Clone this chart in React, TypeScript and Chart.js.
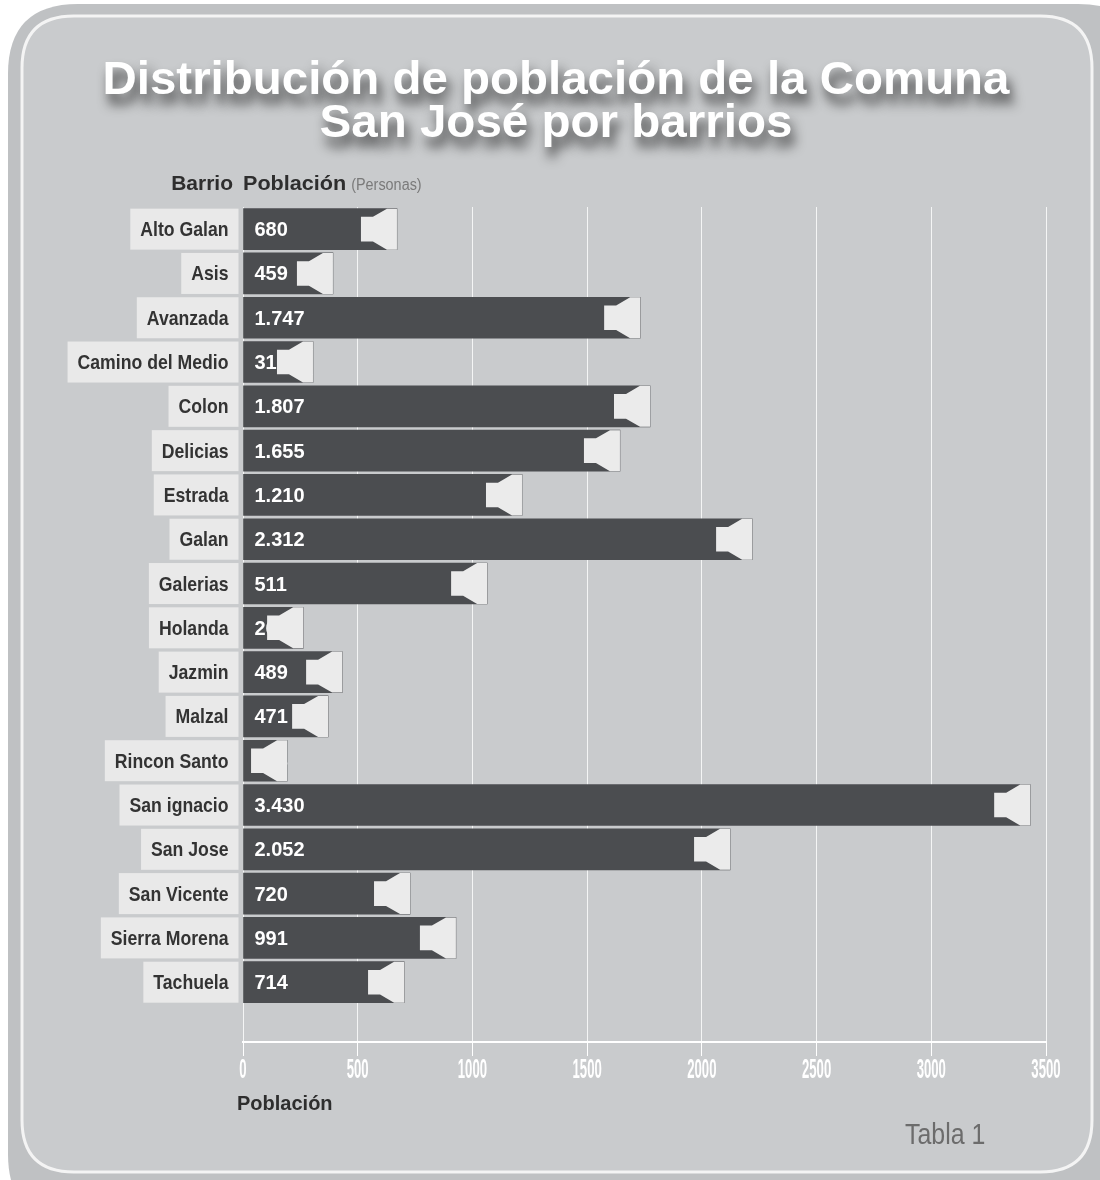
import React, { useEffect, useRef } from "react";
import { Chart, registerables } from "chart.js";

Chart.register(...registerables);

const titleLines = ["Distribución de población de la Comuna", "San José por barrios"];
const categories = [
  "Alto Galan", "Asis", "Avanzada", "Camino del Medio", "Colon", "Delicias", "Estrada", "Galan",
  "Galerias", "Holanda", "Jazmin", "Malzal", "Rincon Santo", "San ignacio", "San Jose",
  "San Vicente", "Sierra Morena", "Tachuela",
];
// printed values inside bars
const valueLabels = [
  "680", "459", "1.747", "316", "1.807", "1.655", "1.210", "2.312",
  "511", "260", "489", "471", "208", "3.430", "2.052", "720", "991", "714",
];
// bar lengths as drawn in the picture
const barLengths = [
  671, 392, 1731, 305, 1774, 1643, 1216, 2219,
  1064, 262, 432, 371, 192, 3431, 2123, 728, 928, 702,
];
const xMin = 0;
const xMax = 3500;
const xStep = 500;

function drawText(
  ctx: CanvasRenderingContext2D, text: string, x: number, y: number,
  font: string, color: string, align: "left" | "right" | "center", sx: number
) {
  ctx.save();
  ctx.font = font;
  ctx.fillStyle = color;
  ctx.textBaseline = "alphabetic";
  ctx.textAlign = "left";
  const w = ctx.measureText(text).width * sx;
  const left = align === "right" ? x - w : align === "center" ? x - w / 2 : x;
  ctx.translate(left, y);
  ctx.scale(sx, 1);
  ctx.fillText(text, 0, 0);
  ctx.restore();
  return w;
}

function roundRect(ctx: CanvasRenderingContext2D, x: number, y: number, w: number, h: number, r: number) {
  ctx.beginPath();
  ctx.moveTo(x + r, y);
  ctx.lineTo(x + w - r, y);
  ctx.quadraticCurveTo(x + w, y, x + w, y + r);
  ctx.lineTo(x + w, y + h - r);
  ctx.quadraticCurveTo(x + w, y + h, x + w - r, y + h);
  ctx.lineTo(x + r, y + h);
  ctx.quadraticCurveTo(x, y + h, x, y + h - r);
  ctx.lineTo(x, y + r);
  ctx.quadraticCurveTo(x, y, x + r, y);
  ctx.closePath();
}

const decorPlugin = {
  id: "decor",
  beforeDraw(chart: any) {
    const ctx: CanvasRenderingContext2D = chart.ctx;
    const W = chart.width;
    const H = chart.height;
    ctx.save();
    ctx.fillStyle = "#ffffff";
    ctx.fillRect(0, 0, W, H);
    roundRect(ctx, 8, 4, W + 40, H + 40, 70);
    ctx.fillStyle = "#bfc1c3";
    ctx.fill();
    roundRect(ctx, 22, 16, 1070, 1156, 52);
    ctx.fillStyle = "#c9cbcd";
    ctx.fill();
    ctx.lineWidth = 3;
    ctx.strokeStyle = "#f4f4f4";
    ctx.stroke();

    // title
    ctx.save();
    ctx.shadowColor = "rgba(20,20,20,0.75)";
    ctx.shadowBlur = 12;
    ctx.shadowOffsetX = 4;
    ctx.shadowOffsetY = 10;
    const tf = "bold 47px 'Liberation Sans', Arial, sans-serif";
    ctx.font = tf;
    const m1 = ctx.measureText(titleLines[0]).width;
    const m2 = ctx.measureText(titleLines[1]).width;
    drawText(ctx, titleLines[0], 556, 94, tf, "#ffffff", "center", 907 / m1);
    drawText(ctx, titleLines[1], 556, 137, tf, "#ffffff", "center", 473 / m2);
    ctx.restore();

    // header
    drawText(ctx, "Barrio", 233, 190, "bold 20px 'Liberation Sans', Arial, sans-serif", "#2e2e2e", "right", 1.05);
    const pw = drawText(ctx, "Población", 243, 190, "bold 20px 'Liberation Sans', Arial, sans-serif", "#2e2e2e", "left", 1.08);
    drawText(ctx, "(Personas)", 243 + pw + 5, 190, "16px 'Liberation Sans', Arial, sans-serif", "#7a7a7a", "left", 0.9);
    ctx.restore();
  },
  afterDatasetsDraw(chart: any) {
    const ctx: CanvasRenderingContext2D = chart.ctx;
    const meta = chart.getDatasetMeta(0);
    const labelFont = "bold 21px 'Liberation Sans', Arial, sans-serif";
    const valFont = "bold 20px 'Liberation Sans', Arial, sans-serif";
    ctx.save();
    meta.data.forEach((bar: any, i: number) => {
      const X = bar.x;
      const base = bar.base;
      const h = bar.height;
      const T = bar.y - h / 2;
      const B = bar.y + h / 2;
      // value text
      drawText(ctx, valueLabels[i], base + 11, bar.y + 7, valFont, "#ffffff", "left", 1.0);
      // ribbon end
      const d = 0.2 * h;
      ctx.beginPath();
      ctx.moveTo(X - 36, T + d);
      ctx.lineTo(X - 24, T + d);
      ctx.lineTo(X - 10, T);
      ctx.lineTo(X, T);
      ctx.lineTo(X, B);
      ctx.lineTo(X - 10, B);
      ctx.lineTo(X - 24, B - d);
      ctx.lineTo(X - 36, B - d);
      ctx.closePath();
      ctx.fillStyle = "#ebebeb";
      ctx.fill();
      // category label box
      ctx.font = labelFont;
      const tw = ctx.measureText(categories[i]).width * 0.84;
      const right = base - 5;
      ctx.fillStyle = "#e9e9e9";
      ctx.fillRect(right - tw - 20, T, tw + 20, h);
      drawText(ctx, categories[i], right - 10, bar.y + 7, labelFont, "#333333", "right", 0.84);
    });
    ctx.restore();
  },
  afterDraw(chart: any) {
    const ctx: CanvasRenderingContext2D = chart.ctx;
    const xs = chart.scales.x;
    ctx.save();
    xs.ticks.forEach((t: any) => {
      const px = xs.getPixelForValue(t.value);
      drawText(ctx, String(t.value), px, 1078, "bold 28px 'Liberation Sans', Arial, sans-serif", "#ffffff", "center", 0.47);
    });
    drawText(ctx, "Población", 237, 1110, "bold 20px 'Liberation Sans', Arial, sans-serif", "#2e2e2e", "left", 1.0);
    drawText(ctx, "Tabla 1", 905, 1144, "30px 'Liberation Sans', Arial, sans-serif", "#6c6c6c", "left", 0.83);
    ctx.restore();
  },
};

export default function App() {
  const ref = useRef<HTMLCanvasElement | null>(null);
  useEffect(() => {
    if (!ref.current) return;
    const chart = new Chart(ref.current, {
      type: "bar",
      data: {
        datasets: [
          {
            data: categories.map((c, i) => ({ x: barLengths[i], y: i })),
            backgroundColor: "#4b4d50",
            borderWidth: 0,
            barThickness: 41,
          },
        ],
      },
      options: {
        indexAxis: "y",
        animation: false,
        responsive: false,
        layout: { padding: { left: 243, right: 54, top: 207, bottom: 0 } },
        plugins: { legend: { display: false }, tooltip: { enabled: false } },
        scales: {
          x: {
            type: "linear",
            min: xMin,
            max: xMax,
            ticks: { stepSize: xStep, color: "rgba(0,0,0,0)", font: { size: 12 } },
            grid: { color: "rgba(255,255,255,0.8)", lineWidth: 1, drawTicks: true, tickLength: 14, tickColor: "#ffffff" },
            border: { display: true, color: "#ffffff", width: 2 },
            afterFit: (scale: any) => { scale.height = 138; },
          },
          y: {
            type: "linear",
            min: -0.5,
            max: 18.35,
            reverse: true,
            offset: false,
            grid: { offset: false },
            display: false,
          },
        },
      } as any,
      plugins: [decorPlugin],
    });
    return () => chart.destroy();
  }, []);
  return (
    <div style={{ position: "absolute", left: 0, top: 0, width: 1100, height: 1180 }}>
      <canvas ref={ref} width={1100} height={1180} style={{ width: 1100, height: 1180, display: "block" }} />
    </div>
  );
}
